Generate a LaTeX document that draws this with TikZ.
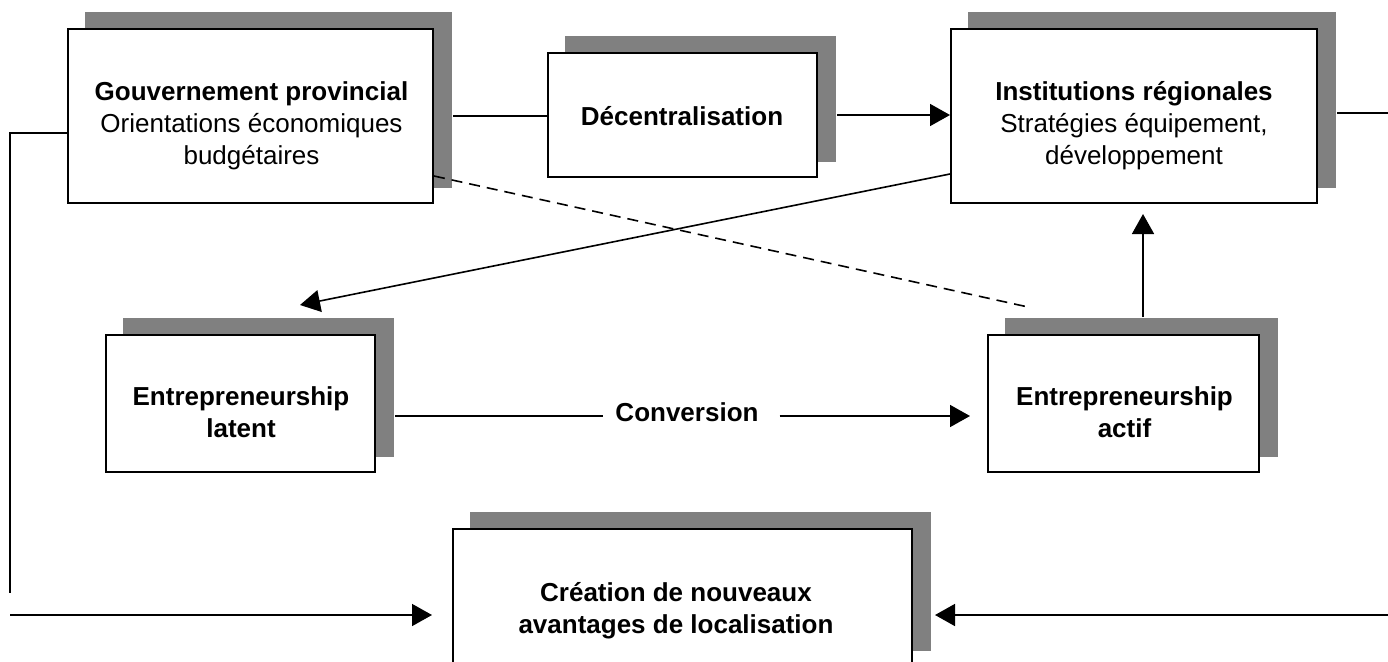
\documentclass[tikz,border=0pt]{standalone}
\usepackage{fontspec}
\setmainfont{Liberation Sans}
\usetikzlibrary{arrows.meta,calc,backgrounds}
\definecolor{shadowgray}{RGB}{128,128,128}
\tikzset{
  box/.style={draw=black, line width=2pt, fill=white, inner sep=0pt},
  lbl/.style={font=\fontsize{26}{32}\selectfont, align=center, anchor=base, inner sep=0pt},
  conn/.style={line width=1.6pt},
  arr/.style={conn, -{Triangle[length=20pt,width=22pt]}},
  dashline/.style={conn, dash pattern=on 11pt off 7pt},
}
\newcommand\boxshadow[1]{\fill[shadowgray] ($(#1.south west)+(18,-16)$) rectangle ($(#1.north east)+(18,-16)$);}
\begin{document}
\begin{tikzpicture}[x=1pt,y=-1pt]
\useasboundingbox (0,0) rectangle (1388,661);
\clip (0,0) rectangle (1388,661);

% boxes
\node[box, minimum width=365pt, minimum height=174pt] (gov) at (250.5,116) {};
\node[box, minimum width=269pt, minimum height=124pt] (dec) at (682.5,115) {};
\node[box, minimum width=366pt, minimum height=174pt] (ins) at (1134,116) {};
\node[box, minimum width=269pt, minimum height=137pt] (lat) at (240.5,403.5) {};
\node[box, minimum width=271pt, minimum height=137pt] (act) at (1123.5,403.5) {};
\node[box, minimum width=459pt, minimum height=137pt] (cre) at (682.5,597.5) {};

\begin{pgfonlayer}{background}
\boxshadow{gov}
\boxshadow{dec}
\boxshadow{ins}
\boxshadow{lat}
\boxshadow{act}
\boxshadow{cre}
\end{pgfonlayer}

% texts (base anchor = baseline of the last line)
\node[lbl] (govt) at (251.5,164) {\textbf{Gouvernement provincial}\\Orientations économiques\\budgétaires};
\node[lbl] (dect) at (682,125) {\textbf{Décentralisation}};
\node[lbl] (inst) at (1134,164) {\textbf{Institutions régionales}\\Stratégies équipement,\\développement};
\node[lbl] (latt) at (241,437) {\textbf{Entrepreneurship}\\\textbf{latent}};
\node[lbl] (actt) at (1124.5,437) {\textbf{Entrepreneurship}\\\textbf{actif}};
\node[lbl] (cret) at (676,633) {\textbf{Création de nouveaux}\\\textbf{avantages de localisation}};
\node[font=\fontsize{26}{32}\selectfont\bfseries, inner ysep=0pt, inner xsep=12pt] (conv) at (687,412.5) {Conversion};

% free ends
\coordinate (tipL) at (300,305);
\coordinate (dE) at (1028,307);
\coordinate (L1) at (10,593);
\coordinate (L2) at (10,615);
\coordinate (R1) at (1388,113);
\coordinate (R2) at (1388,615);
\coordinate (c1) at ($(lat.east)+(19,12.5)$);
\coordinate (aN) at ($(act.north)+(19.5,-17)$);

% connectors
\draw[conn] ($(gov.east)+(19,0)$) -- (dec.west |- gov.east);
\draw[arr] ($(dec.east)+(19,0)$) -- (ins.west |- dec.east);
\draw[conn] ($(ins.east)+(19,-3)$) -- (R1);
\draw[arr] ($(ins.south west)+(0,-30)$) -- (tipL);
\draw[dashline] ($(gov.south east)+(0,-28)$) -- (dE);
\draw[arr, shorten >=10pt] (aN) -- (aN |- ins.south);
\draw[conn] (c1) -- (conv.west |- c1);
\draw[arr, shorten >=17pt] ($(conv.east |- c1)+(9,0)$) -- (act.west |- c1);
\draw[conn] ($(gov.west)+(0,17)$) -| (L1);
\draw[arr, shorten >=20pt] (L2) -- (cre.west |- L2);
\draw[arr] (R2) -- ($(cre.east |- R2)+(22,0)$);
\end{tikzpicture}
\end{document}
